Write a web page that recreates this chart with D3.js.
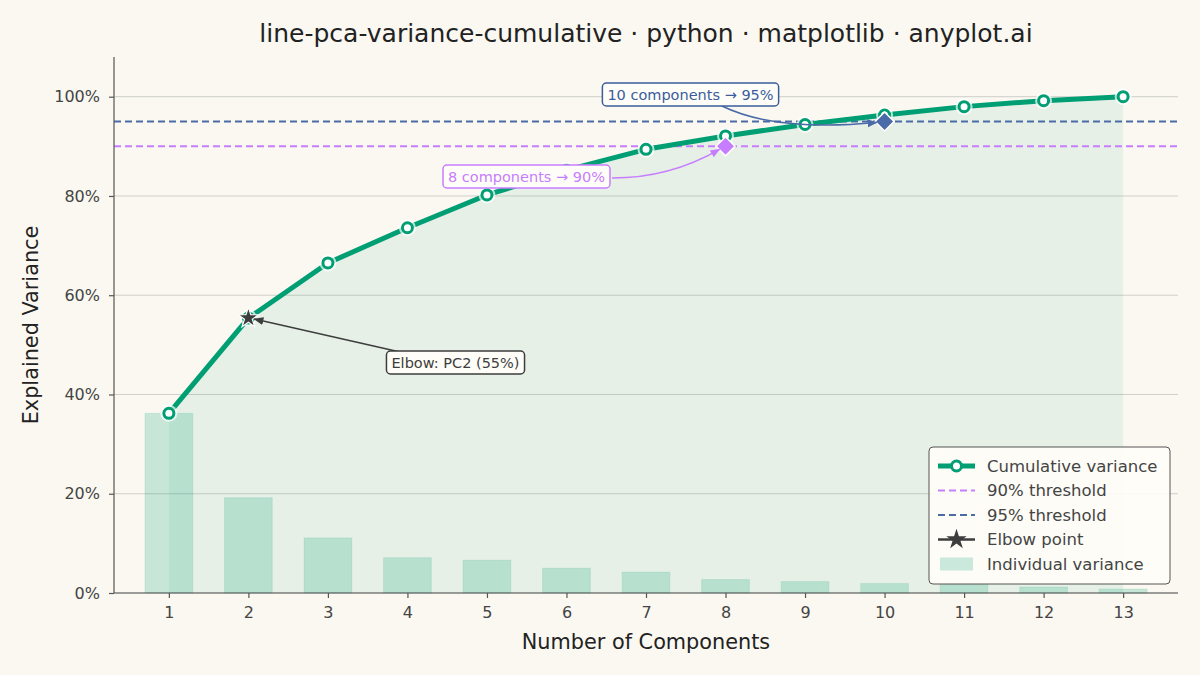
<!DOCTYPE html>
<html><head><meta charset="utf-8">
<script src="https://cdn.jsdelivr.net/npm/d3@7"></script>
<style>
html,body{margin:0;padding:0;background:#faf8f1;}
text{font-family:"DejaVu Sans",sans-serif;}
</style></head>
<body><svg id="chart" width="1200" height="675"></svg>
<script>
const components = [1,2,3,4,5,6,7,8,9,10,11,12,13];
const individualVariance = [36.2,19.2,11.1,7.1,6.6,5.0,4.2,2.7,2.3,1.9,1.7,1.2,0.8];
const cumulativeVariance = [36.2,55.4,66.5,73.6,80.2,85.2,89.4,92.1,94.4,96.3,98.0,99.2,100.0];
const yTicks = [0,20,40,60,80,100];
const yTickLabels = ["0%","20%","40%","60%","80%","100%"];
const thresholds = [{v:90,label:"90% threshold",color:"#c77dff",n:8,text:"8 components \u2192 90%"},
                    {v:95,label:"95% threshold",color:"#4a6aa8",n:10,text:"10 components \u2192 95%"}];
const elbow = {n:2, v:55.4, text:"Elbow: PC2 (55%)"};
const titleText = "line-pca-variance-cumulative \u00b7 python \u00b7 matplotlib \u00b7 anyplot.ai";

const green = "#009e73";
const svg = d3.select("#chart");
const L=114,R=1178,T=57,B=593;
const x = d3.scaleLinear().domain([0.31,13.69]).range([L,R]);
const y = d3.scaleLinear().domain([0,108]).range([B,T]);

svg.append("rect").attr("width",1200).attr("height",675).attr("fill","#faf8f1");

// grid
svg.append("g").selectAll("line").data(yTicks).join("line")
  .attr("x1",L).attr("x2",R).attr("y1",d=>y(d)).attr("y2",d=>y(d))
  .attr("stroke","#cfcfca").attr("stroke-width",1);

// fill under cumulative curve
const area = d3.area().x((d,i)=>x(components[i])).y0(y(0)).y1(d=>y(d));
svg.append("path").datum(cumulativeVariance).attr("d",area)
  .attr("fill",green).attr("fill-opacity",0.08);

// bars
const bw = x(1.6)-x(1);
svg.append("g").selectAll("rect").data(individualVariance).join("rect")
  .attr("x",(d,i)=>x(components[i])-bw/2).attr("width",bw)
  .attr("y",d=>y(d)).attr("height",d=>y(0)-y(d))
  .attr("fill",green).attr("fill-opacity",0.2)
  .attr("stroke",green).attr("stroke-opacity",0.12).attr("stroke-width",1);

// thresholds
thresholds.forEach(t=>{
  svg.append("line").attr("x1",L).attr("x2",R).attr("y1",y(t.v)).attr("y2",y(t.v))
    .attr("stroke",t.color).attr("stroke-width",2).attr("stroke-dasharray","7,4");
});

// cumulative line
const line = d3.line().x((d,i)=>x(components[i])).y(d=>y(d));
svg.append("path").datum(cumulativeVariance).attr("d",line)
  .attr("fill","none").attr("stroke",green).attr("stroke-width",5).attr("stroke-linejoin","round");

// markers
const mk = svg.append("g");
mk.selectAll("circle.halo").data(cumulativeVariance).join("circle").attr("class","halo")
  .attr("cx",(d,i)=>x(components[i])).attr("cy",d=>y(d)).attr("r",8.5)
  .attr("fill","#ffffff").attr("fill-opacity",0.7);
mk.selectAll("circle.m").data(cumulativeVariance).join("circle").attr("class","m")
  .attr("cx",(d,i)=>x(components[i])).attr("cy",d=>y(d)).attr("r",5)
  .attr("fill","#ffffff").attr("stroke",green).attr("stroke-width",3);

// diamonds
function diamond(r){return `M0,${-r}L${r},0L0,${r}L${-r},0Z`;}
thresholds.forEach(t=>{
  svg.append("path").attr("d",diamond(9.5))
    .attr("transform",`translate(${x(t.n)},${y(t.v)})`)
    .attr("fill",t.color).attr("stroke","#ffffff").attr("stroke-width",1.5);
});

// elbow star
svg.append("path").attr("d",d3.symbol().type(d3.symbolStar).size(130)())
  .attr("transform",`translate(${x(elbow.n)},${y(elbow.v)})`)
  .attr("fill","#3d3d3d").attr("stroke","#ffffff").attr("stroke-width",1.2);

// arrow markers
const defs = svg.append("defs");
function arrowHead(id,color){
  defs.append("marker").attr("id",id).attr("viewBox","0 0 10 10").attr("refX",9).attr("refY",5)
    .attr("markerWidth",10).attr("markerHeight",10).attr("markerUnits","userSpaceOnUse").attr("orient","auto")
    .append("path").attr("d","M0,1L10,5L0,9Z").attr("fill",color);
}
arrowHead("ah-el","#3d3d3d");
arrowHead("ah-90",thresholds[0].color);
arrowHead("ah-95",thresholds[1].color);

// annotations
function labelBox(cx,cy,txt,color){
  const g = svg.append("g");
  const t = g.append("text").attr("x",cx).attr("y",cy).attr("text-anchor","middle")
    .attr("dominant-baseline","central").attr("font-size",14.5).attr("fill",color).text(txt);
  const bb = t.node().getBBox();
  g.insert("rect","text").attr("x",bb.x-5).attr("y",cy-11.5).attr("width",bb.width+10).attr("height",23)
    .attr("rx",4).attr("fill","#fffdf8").attr("stroke",color).attr("stroke-width",1.5);
}
// elbow arrow
svg.append("path").attr("d",`M400,352L${x(elbow.n)+6},${y(elbow.v)+1}`)
  .attr("fill","none").attr("stroke","#3d3d3d").attr("stroke-width",1.5).attr("marker-end","url(#ah-el)");
// 90 arrow
svg.append("path").attr("d",`M612,178Q670,178 ${x(8)-6},${y(90)+3}`)
  .attr("fill","none").attr("stroke",thresholds[0].color).attr("stroke-width",1.5).attr("marker-end","url(#ah-90)");
// 95 arrow
svg.append("path").attr("d",`M722,106Q775,132 ${x(10)-8},${y(95)+1}`)
  .attr("fill","none").attr("stroke",thresholds[1].color).attr("stroke-width",1.5).attr("marker-end","url(#ah-95)");

labelBox(455.5,362.5,elbow.text,"#3d3d3d");
labelBox(526.5,176.5,thresholds[0].text,thresholds[0].color);
labelBox(690.5,94.5,thresholds[1].text,"#3b5d9c");

// axes
const xAxis = svg.append("g").attr("transform",`translate(0,${B})`)
  .call(d3.axisBottom(x).tickValues(components).tickSize(5).tickPadding(9).tickFormat(d3.format("d")));
const yAxis = svg.append("g").attr("transform",`translate(${L},0)`)
  .call(d3.axisLeft(y).tickValues(yTicks).tickSize(5).tickPadding(9).tickFormat((d,i)=>yTickLabels[i]));
[xAxis,yAxis].forEach(a=>{
  a.select(".domain").attr("stroke","#555").attr("stroke-width",1.2);
  a.selectAll(".tick line").attr("stroke","#555").attr("stroke-width",1.2);
  a.selectAll(".tick text").attr("font-size",16).attr("fill","#444").attr("font-family","DejaVu Sans");
});
xAxis.select(".domain").attr("d",`M${L},0H${R}`);
yAxis.select(".domain").attr("d",`M0,${B}V${T}`);

// labels
svg.append("text").attr("x",(L+R)/2).attr("y",33).attr("text-anchor","middle").attr("dominant-baseline","central")
  .attr("font-size",25).attr("fill","#222").text(titleText);
svg.append("text").attr("x",(L+R)/2).attr("y",642).attr("text-anchor","middle").attr("dominant-baseline","central")
  .attr("font-size",20.8).attr("fill","#222").text("Number of Components");
svg.append("text").attr("transform",`translate(31,${(T+B)/2}) rotate(-90)`).attr("text-anchor","middle").attr("dominant-baseline","central")
  .attr("font-size",20.8).attr("fill","#222").text("Explained Variance");

// legend
const lg = svg.append("g");
lg.append("rect").attr("x",929).attr("y",447).attr("width",241).attr("height",137).attr("rx",4)
  .attr("fill","#fffdf8").attr("fill-opacity",0.9).attr("stroke","#555").attr("stroke-width",1);
const items = [
  {type:"cum",label:"Cumulative variance"},
  {type:"dash",color:thresholds[0].color,label:thresholds[0].label},
  {type:"dash",color:thresholds[1].color,label:thresholds[1].label},
  {type:"star",label:"Elbow point"},
  {type:"bar",label:"Individual variance"}
];
items.forEach((it,i)=>{
  const cy = 466+i*24.5, x0=938, x1=975, xm=(x0+x1)/2;
  if(it.type==="cum"){
    lg.append("line").attr("x1",x0).attr("x2",x1).attr("y1",cy).attr("y2",cy).attr("stroke",green).attr("stroke-width",5);
    lg.append("circle").attr("cx",xm).attr("cy",cy).attr("r",5).attr("fill","#fff").attr("stroke",green).attr("stroke-width",3);
  } else if(it.type==="dash"){
    lg.append("line").attr("x1",x0).attr("x2",x1).attr("y1",cy).attr("y2",cy).attr("stroke",it.color).attr("stroke-width",2).attr("stroke-dasharray","7,4");
  } else if(it.type==="star"){
    lg.append("line").attr("x1",x0).attr("x2",x1).attr("y1",cy).attr("y2",cy).attr("stroke","#3d3d3d").attr("stroke-width",2.5);
    lg.append("path").attr("d",d3.symbol().type(d3.symbolStar).size(130)()).attr("transform",`translate(${xm},${cy})`)
      .attr("fill","#3d3d3d");
  } else {
    lg.append("rect").attr("x",x0+2).attr("y",cy-6.5).attr("width",33).attr("height",13)
      .attr("fill",green).attr("fill-opacity",0.2);
  }
  lg.append("text").attr("x",987).attr("y",cy).attr("dominant-baseline","central").attr("font-size",16.5)
    .attr("fill","#444").text(it.label);
});
</script></body></html>
